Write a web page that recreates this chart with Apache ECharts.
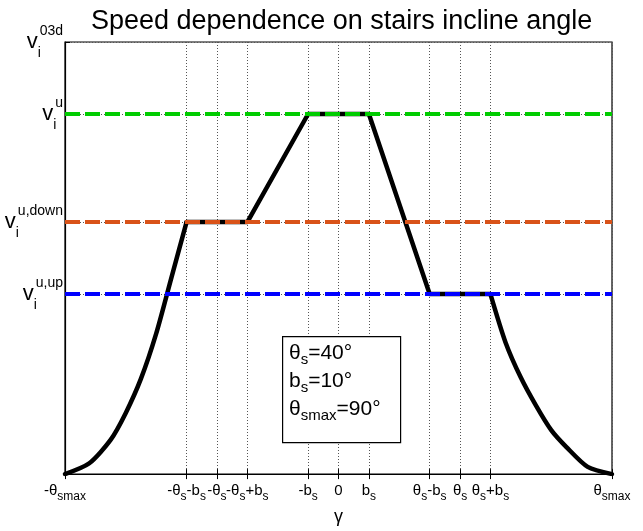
<!DOCTYPE html>
<html>
<head>
<meta charset="utf-8">
<script src="https://cdn.jsdelivr.net/npm/echarts@6/dist/echarts.min.js"></script>
<style>
  html, body { margin: 0; padding: 0; background: #fff; }
  #chart { width: 643px; height: 531px; }
</style>
</head>
<body>
<div id="chart"></div>
<script>
// speed profile v(gamma)
// rising part (smooth), middle part (straight pieces), falling part (smooth)
const leftX = [-90, -82, -75, -70, -65, -60, -55, -50];
const leftY = [0, 0.03, 0.095, 0.17, 0.265, 0.39, 0.545, 0.7];
const midX = [-50, -30, -10, 10, 30, 50];
const midY = [0.7, 0.7, 1.0, 1.0, 0.5, 0.5];
const rightX = [50, 55, 60, 65, 70, 75, 82, 90];
const rightY = [0.5, 0.365, 0.268, 0.19, 0.122, 0.075, 0.02, 0];

// horizontal reference levels
const levelNames = ['v_u', 'v_down', 'v_up'];
const levelValues = [1.0, 0.7, 0.5];
const levelColors = ['#00cc00', '#d95319', '#0000ff'];

// x ticks (degrees) and their labels
const xTicks = [-90, -50, -40, -30, -10, 0, 10, 30, 40, 50, 90];
const xTickLabels = [
  '-θ{s|smax}', '-θ{s|s}-b{s|s}', '-θ{s|s}', '-θ{s|s}+b{s|s}', '-b{s|s}', '0',
  'b{s|s}', 'θ{s|s}-b{s|s}', 'θ{s|s}', 'θ{s|s}+b{s|s}', 'θ{s|smax}'
];

// y ticks and labels
const yTicks = [0.5, 0.7, 1.0, 1.2];
const yTickLabels = [
  '{v|v}{sub|i}{sup|u,up}',
  '{v|v}{sub|i}{sup|u,down}',
  '{v|v}{sub|i}{sup|u}',
  '{v|v}{sub|i}{sup|03d}'
];

const chart = echarts.init(document.getElementById('chart'));

const curveStyle = { color: '#000', width: 4.5, join: 'round', cap: 'round' };
const series = [{
  name: 'rise',
  type: 'line',
  data: leftX.map((x, i) => [x, leftY[i]]),
  showSymbol: false,
  smooth: 0.25,
  z: 2,
  lineStyle: curveStyle
}, {
  name: 'middle',
  type: 'line',
  data: midX.map((x, i) => [x, midY[i]]),
  showSymbol: false,
  z: 2,
  lineStyle: curveStyle
}, {
  name: 'fall',
  type: 'line',
  data: rightX.map((x, i) => [x, rightY[i]]),
  showSymbol: false,
  smooth: 0.25,
  z: 2,
  lineStyle: curveStyle
}];
levelValues.forEach((v, i) => {
  series.push({
    name: levelNames[i],
    type: 'line',
    data: [[-90, v], [90, v]],
    showSymbol: false,
    z: 3,
    lineStyle: { color: levelColors[i], width: 4, type: [15, 5] }
  });
});

chart.setOption({
  animation: false,
  title: {
    text: 'Speed dependence on stairs incline angle',
    left: 86,
    top: 3,
    textStyle: { fontFamily: 'Liberation Sans', fontSize: 27, fontWeight: 'normal', color: '#000' }
  },
  grid: {
    left: 65, right: 31, top: 42, bottom: 54,
    show: true, borderColor: '#000', borderWidth: 1.2
  },
  xAxis: [{
    type: 'value',
    min: -90, max: 90,
    name: 'γ',
    nameLocation: 'middle',
    nameGap: 30,
    nameTextStyle: { fontFamily: 'Liberation Sans', fontSize: 18, color: '#000' },
    axisLine: { onZero: false, lineStyle: { color: '#000', width: 1.2 } },
    axisTick: { inside: true, length: 5, customValues: xTicks, lineStyle: { color: '#000' } },
    splitLine: { show: true, lineStyle: { color: '#555', width: 1, type: [1, 2] } },
    axisLabel: {
      customValues: xTicks,
      formatter: v => xTickLabels[xTicks.indexOf(v)],
      fontFamily: 'Liberation Sans', fontSize: 15, color: '#000',
      lineHeight: 24, margin: 5,
      rich: {
        s: { fontFamily: 'Liberation Sans', fontSize: 12, lineHeight: 12, verticalAlign: 'bottom', color: '#000' }
      }
    }
  }, {
    type: 'value',
    position: 'top',
    min: -90, max: 90,
    axisLine: { show: false },
    axisTick: { inside: true, length: 5, customValues: xTicks, lineStyle: { color: '#000' } },
    axisLabel: { show: false },
    splitLine: { show: false }
  }],
  yAxis: {
    type: 'value',
    min: 0, max: 1.2,
    axisLine: { onZero: false, lineStyle: { color: '#000', width: 1.2 } },
    axisTick: { inside: true, length: 5, customValues: yTicks, lineStyle: { color: '#000' } },
    splitLine: { show: true, lineStyle: { color: '#555', width: 1, type: [1, 2] } },
    axisLabel: {
      customValues: yTicks,
      formatter: v => yTickLabels[yTicks.indexOf(v)],
      margin: 2,
      lineHeight: 36,
      rich: {
        v: { fontFamily: 'Liberation Sans', fontSize: 22, align: 'left', color: '#000' },
        sub: { fontFamily: 'Liberation Sans', fontSize: 14, lineHeight: 14, verticalAlign: 'bottom', align: 'left', width: 1, color: '#000' },
        sup: { fontFamily: 'Liberation Sans', fontSize: 14, lineHeight: 14, verticalAlign: 'top', align: 'left', padding: [0, 0, 0, 1], color: '#000' }
      }
    }
  },
  graphic: [{
    type: 'rect',
    left: 282, top: 336,
    shape: { width: 118, height: 106 },
    style: { fill: '#fff', stroke: '#000', lineWidth: 1.2 },
    z: 10
  }, {
    type: 'text',
    left: 289, top: 339,
    z: 11,
    style: {
      text: 'θ{s|s}=40°\nb{s|s}=10°\nθ{s|smax}=90°',
      fontFamily: 'Liberation Sans', fontSize: 21, fill: '#000',
      lineHeight: 28,
      rich: {
        s: { fontFamily: 'Liberation Sans', fontSize: 15, lineHeight: 15, verticalAlign: 'bottom', fill: '#000' }
      }
    }
  }],
  series: series
});
</script>
</body>
</html>
